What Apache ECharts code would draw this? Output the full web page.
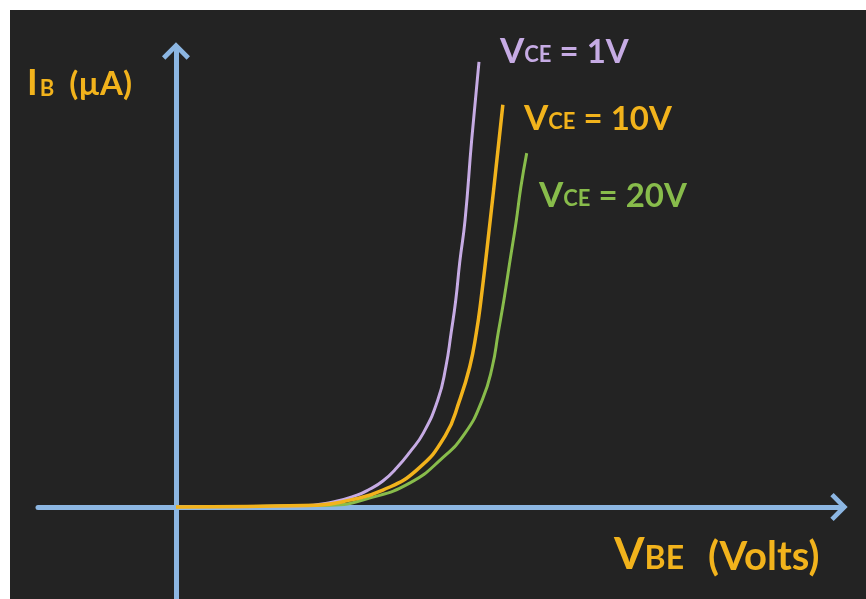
<!DOCTYPE html>
<html>
<head>
<meta charset="utf-8">
<script src="https://cdn.jsdelivr.net/npm/echarts@6/dist/echarts.min.js"></script>
<style>
html,body{margin:0;padding:0;background:#ffffff;width:866px;height:599px;overflow:hidden;}
#c{position:absolute;left:10px;top:10px;width:856px;height:589px;}
</style>
</head>
<body>
<div id="c"></div>
<script>
// V_BE (volts) vs I_B (µA) for three V_CE values
const vce1V  = [[0,0],[0.187,0.2],[0.237,1.1],[0.273,2.6],[0.292,3.9],[0.312,5.7],[0.333,8.6],[0.353,12.1],[0.373,16.2],[0.395,23.5],[0.407,30.7],[0.415,38.2],[0.422,45.4],[0.428,53.7],[0.436,62.9],[0.446,80.5],[0.457,97.6]];
const vce10V = [[0,0],[0.213,0.4],[0.262,1.5],[0.312,3.7],[0.363,8.1],[0.406,15.6],[0.428,23.5],[0.443,30.7],[0.453,38.2],[0.460,45.4],[0.474,62.9],[0.484,76.1],[0.493,88.2]];
const vce20V = [[0,0],[0.232,0.4],[0.293,2.0],[0.353,5.3],[0.400,10.5],[0.436,16.2],[0.462,23.5],[0.477,30.7],[0.486,38.2],[0.495,45.8],[0.504,54.2],[0.513,62.5],[0.520,70.0],[0.529,77.6]];
const seriesNames = ['VCE = 20V','VCE = 1V','VCE = 10V'];

const axisBlue = '#8cb6e2';
const purple = '#c6abe4';
const orange = '#f2b31c';
const green = '#88bc4b';
const chevron = 'path://M50,0 L100,50 L88,62 L50,24 L12,62 L0,50 Z';
const font = 'Lato';

function vceRich(color) {
  return {
    a: { fontFamily: font, fontWeight: 'bold', fontSize: 35, lineHeight: 35, color: color, verticalAlign: 'bottom' },
    b: { fontFamily: font, fontWeight: 'bold', fontSize: 22, lineHeight: 22, color: color, verticalAlign: 'bottom', padding: [0, 0, 3, 0] },
    c: { fontFamily: font, fontWeight: 'bold', fontSize: 33, lineHeight: 33, color: color, verticalAlign: 'bottom' }
  };
}

const chart = echarts.init(document.getElementById('c'));
chart.setOption({
  backgroundColor: '#232323',
  animation: false,
  title: [
    {
      left: 17, top: 55, padding: 0,
      text: '{a|I}{b|B}{c|(µA)}',
      textStyle: { rich: {
        a: { fontFamily: font, fontWeight: 'bold', fontSize: 36, lineHeight: 36, color: orange, verticalAlign: 'bottom' },
        b: { fontFamily: font, fontWeight: 'bold', fontSize: 22, lineHeight: 22, color: orange, verticalAlign: 'bottom', padding: [0, 0, 1, 2] },
        c: { fontFamily: font, fontWeight: 'bold', fontSize: 33, lineHeight: 33, color: orange, verticalAlign: 'bottom', padding: [0, 0, 0, 15] }
      } }
    },
    { left: 490, top: 24, padding: 0, text: '{a|V}{b|CE}{c| = 1V}', textStyle: { rich: vceRich(purple) } },
    { left: 514, top: 91, padding: 0, text: '{a|V}{b|CE}{c| = 10V}', textStyle: { rich: vceRich(orange) } },
    { left: 529, top: 168, padding: 0, text: '{a|V}{b|CE}{c| = 20V}', textStyle: { rich: vceRich(green) } },
    {
      left: 604, top: 523, padding: 0,
      text: '{a|V}{b|BE}{c|(Volts)}',
      textStyle: { rich: {
        a: { fontFamily: font, fontWeight: 'bold', fontSize: 44, lineHeight: 44, color: orange, verticalAlign: 'bottom' },
        b: { fontFamily: font, fontWeight: 'bold', fontSize: 32, lineHeight: 32, color: orange, verticalAlign: 'bottom', padding: [0, 0, 2, 0] },
        c: { fontFamily: font, fontWeight: 'bold', fontSize: 40, lineHeight: 40, color: orange, verticalAlign: 'bottom', padding: [0, 0, 0, 24] }
      } }
    }
  ],
  grid: { left: 28, top: 41, right: 27, bottom: 0, containLabel: false },
  xAxis: {
    type: 'value', min: -0.2081, max: 1.0,
    axisLine: { show: true, onZero: true, symbol: ['none', chevron], symbolSize: [28, 18],
      lineStyle: { color: axisBlue, width: 5, cap: 'round' } },
    axisTick: { show: false }, axisLabel: { show: false }, splitLine: { show: false }
  },
  yAxis: {
    type: 'value', min: -20.175, max: 100,
    axisLine: { show: true, onZero: true, symbol: ['none', chevron], symbolSize: [28, 18],
      lineStyle: { color: axisBlue, width: 5, cap: 'round' } },
    axisTick: { show: false }, axisLabel: { show: false }, splitLine: { show: false }
  },
  series: [
    { name: seriesNames[0], type: 'line', data: vce20V, smooth: 0.5, symbol: 'none', z: 3,
      lineStyle: { color: green, width: 3 } },
    { name: seriesNames[1], type: 'line', data: vce1V, smooth: 0.5, symbol: 'none', z: 4,
      lineStyle: { color: purple, width: 3 } },
    { name: seriesNames[2], type: 'line', data: vce10V, smooth: 0.5, symbol: 'none', z: 5,
      lineStyle: { color: orange, width: 3.5 } }
  ]
});
</script>
</body>
</html>
